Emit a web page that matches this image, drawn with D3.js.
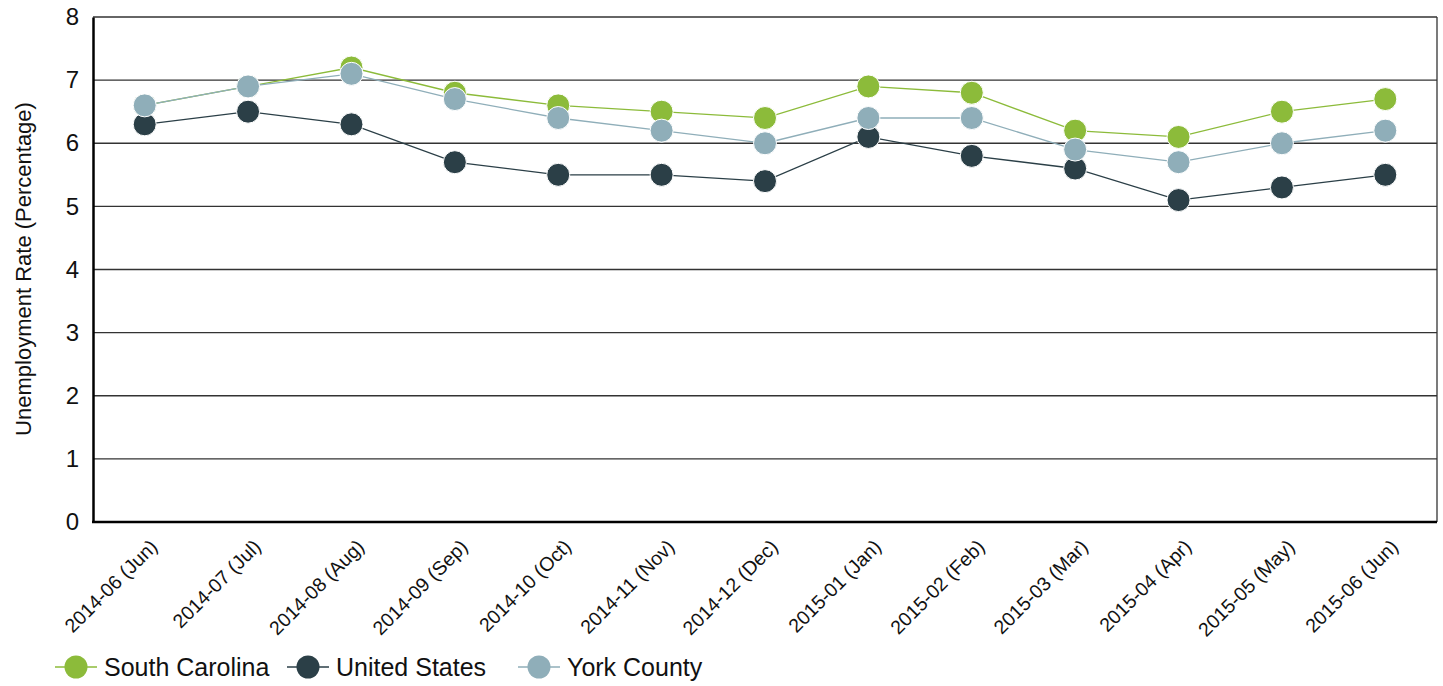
<!DOCTYPE html>
<html><head><meta charset="utf-8">
<script src="https://cdn.jsdelivr.net/npm/d3@7"></script>
<style>body{margin:0;background:#fff;} svg{display:block;font-family:"Liberation Sans",Arial,sans-serif;}</style>
</head><body><svg id="c" width="1443" height="686"></svg>
<script>
const categories = ["2014-06 (Jun)","2014-07 (Jul)","2014-08 (Aug)","2014-09 (Sep)","2014-10 (Oct)","2014-11 (Nov)","2014-12 (Dec)","2015-01 (Jan)","2015-02 (Feb)","2015-03 (Mar)","2015-04 (Apr)","2015-05 (May)","2015-06 (Jun)"];
const southCarolina = [6.6,6.9,7.2,6.8,6.6,6.5,6.4,6.9,6.8,6.2,6.1,6.5,6.7];
const unitedStates = [6.3,6.5,6.3,5.7,5.5,5.5,5.4,6.1,5.8,5.6,5.1,5.3,5.5];
const yorkCounty = [6.6,6.9,7.1,6.7,6.4,6.2,6.0,6.4,6.4,5.9,5.7,6.0,6.2];
const yTicks = [0,1,2,3,4,5,6,7,8];
const seriesNames = ["South Carolina","United States","York County"];
const seriesColors = ["#8cbb3a","#2b3f47","#8faeb9"];

const series = [southCarolina, unitedStates, yorkCounty].map((v,i)=>({name:seriesNames[i], color:seriesColors[i], values:v}));

const svg = d3.select("#c");
const L=93, R=1437, T=17, B=522;
const x = d3.scaleBand().domain(categories).range([L,R]);
const y = d3.scaleLinear().domain([0,8]).range([B,T]);

// gridlines
svg.append("g").selectAll("line").data(yTicks.filter(d=>d>0)).join("line")
  .attr("x1",L).attr("x2",R).attr("y1",d=>y(d)).attr("y2",d=>y(d))
  .attr("stroke","#333").attr("stroke-width",1.3);
// right border
svg.append("line").attr("x1",R).attr("x2",R).attr("y1",T).attr("y2",B).attr("stroke","#333").attr("stroke-width",1.3);

// y axis
const ya = svg.append("g").attr("transform",`translate(${L},0)`)
  .call(d3.axisLeft(y).tickValues(yTicks).tickSize(0).tickPadding(14).tickFormat(d3.format("d")));
ya.select(".domain").attr("stroke","#000").attr("stroke-width",2.5);
ya.selectAll("text").attr("font-size",24).attr("fill","#111").attr("font-family","Liberation Sans, Arial, sans-serif");

// x axis
const xa = svg.append("g").attr("transform",`translate(0,${B})`)
  .call(d3.axisBottom(x).tickSize(0).tickPadding(0));
xa.select(".domain").attr("d",`M${L-1},0H${R}`).attr("stroke","#000").attr("stroke-width",2.5);
xa.selectAll("text").attr("font-size",19.5).attr("fill","#111").attr("font-family","Liberation Sans, Arial, sans-serif")
  .attr("text-anchor","end").attr("dy",0).attr("transform","translate(14,26) rotate(-45)");

// y title
svg.append("text").attr("transform",`translate(31,269) rotate(-90)`).attr("text-anchor","middle")
  .attr("font-size",22).attr("fill","#111").text("Unemployment Rate (Percentage)");

const line = d3.line().x((d,i)=>x(categories[i])+x.bandwidth()/2).y(d=>y(d));
series.forEach(s=>{
  const g = svg.append("g");
  g.append("path").attr("d",line(s.values)).attr("fill","none").attr("stroke",s.color).attr("stroke-width",1.3);
  g.selectAll("circle").data(s.values).join("circle")
    .attr("cx",(d,i)=>x(categories[i])+x.bandwidth()/2).attr("cy",d=>y(d)).attr("r",11.5)
    .attr("fill",s.color).attr("stroke","#fff").attr("stroke-width",1);
});

// legend
const legX = [55, 287, 518];
const lg = svg.append("g");
series.forEach((s,i)=>{
  const g = lg.append("g").attr("transform",`translate(${legX[i]},667)`);
  g.append("line").attr("x1",0).attr("x2",42).attr("stroke",s.color).attr("stroke-width",1.3);
  g.append("circle").attr("cx",21).attr("r",11.5).attr("fill",s.color);
  g.append("text").attr("x",49).attr("y",9).attr("font-size",25).attr("fill","#111").text(s.name);
});
</script></body></html>
